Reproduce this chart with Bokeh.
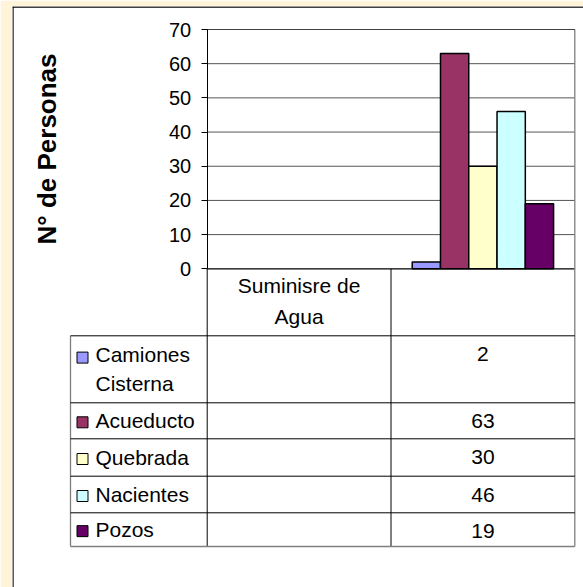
import math
import textwrap
from bokeh.plotting import figure
from bokeh.models import Range1d, FixedTicker
from bokeh.embed import file_html
from bokeh.resources import INLINE
from bokeh.core.properties import value

# ---------------- data ----------------
categories = ["Suminisre de Agua", ""]
series = ["Camiones Cisterna", "Acueducto", "Quebrada", "Nacientes", "Pozos"]
values_suministro = [None, None, None, None, None]
values_second = [2, 63, 30, 46, 19]
series_colors = ["#9999FF", "#993366", "#FFFFCC", "#CCFFFF", "#660066"]
y_ticks = [0, 10, 20, 30, 40, 50, 60, 70]
y_title = "N° de Personas"
values_by_category = [values_suministro, values_second]

# ---------------- layout constants (pixels) ----------------
FONT = "Liberation Sans"
CREAM = "#FFF4DA"
W, H = 583, 587
PANEL_L, PANEL_T = 12, 6           # white panel edges
AX_X = 206.7                        # y axis position
CAT_W = 183.8                       # width of one category column
ZERO_Y = 268.3                      # pixel row of value 0
TOP_Y = 29.0                        # pixel row of top tick
UY = (ZERO_Y - TOP_Y) / (y_ticks[-1] - y_ticks[0])

def xd(px):
    return (px - AX_X) / CAT_W

def yd(py):
    return (ZERO_Y - py) / UY

p = figure(width=W, height=H,
           x_range=Range1d(xd(PANEL_L), xd(W)), y_range=Range1d(yd(H), yd(PANEL_T)),
           output_backend="svg", toolbar_location=None,
           min_border_left=PANEL_L, min_border_top=PANEL_T,
           min_border_right=0, min_border_bottom=0,
           x_axis_location=None)
p.background_fill_color = "white"
p.border_fill_color = CREAM
p.outline_line_color = None
p.grid.visible = False

nc = len(categories)

# white panel border (left / top)
p.segment(x0=[xd(PANEL_L + 0.5), xd(PANEL_L)], x1=[xd(PANEL_L + 0.5), xd(W)],
          y0=[yd(PANEL_T), yd(PANEL_T + 0.5)], y1=[yd(H), yd(PANEL_T + 0.5)],
          line_color="black", line_width=1.3)

# grid lines
p.segment(x0=[0] * (len(y_ticks) - 1), x1=[nc] * (len(y_ticks) - 1),
          y0=y_ticks[1:], y1=y_ticks[1:], line_color="#555555", line_width=1)

# bars
bw = 1.0 / (len(series) + 1.5)
bx, btop, bcol = [], [], []
for ci, vals in enumerate(values_by_category):
    for si, v in enumerate(vals):
        if v is None:
            continue
        bx.append(ci + 0.5 + (si - (len(series) - 1) / 2) * bw)
        btop.append(v)
        bcol.append(series_colors[si])
p.vbar(x=bx, top=btop, bottom=0, width=bw, fill_color=bcol,
       line_color="black", line_width=1.5)

# y axis
ya = p.yaxis[0]
ya.fixed_location = 0
ya.bounds = (y_ticks[0], y_ticks[-1])
ya.ticker = FixedTicker(ticks=y_ticks)
ya.minor_tick_line_color = None
ya.major_tick_in = 0
ya.major_tick_out = 6
ya.major_tick_line_color = "black"
ya.axis_line_color = "black"
ya.major_label_standoff = 10
ya.major_label_text_font = FONT
ya.major_label_text_font_size = "20px"
ya.major_label_text_color = "black"
ya.axis_label = y_title
ya.axis_label_text_font = FONT
ya.axis_label_text_font_size = "26px"
ya.axis_label_text_font_style = "bold"
ya.axis_label_text_color = "black"
ya.axis_label_standoff = 104

# ---------------- data table ----------------
LEG_L = 70
header_bottom = 335.3
row_bottoms = [402.3, 438.3, 475.7, 512.3, 546.0]
row_tops = [header_bottom] + row_bottoms[:-1]
table_bottom = row_bottoms[-1]
GRAY = "#7f7f7f"

# zero line
p.segment(x0=[0], x1=[nc], y0=[0], y1=[0], line_color="black", line_width=1.2)
# vertical lines
p.segment(x0=list(range(nc)), x1=list(range(nc)), y0=[yd(ZERO_Y)] * nc,
          y1=[yd(table_bottom)] * nc, line_color="black", line_width=1)
p.segment(x0=[nc], x1=[nc], y0=[y_ticks[-1]], y1=[yd(table_bottom)],
          line_color=GRAY, line_width=1.3)
p.segment(x0=[xd(LEG_L)], x1=[xd(LEG_L)], y0=[yd(header_bottom)], y1=[yd(table_bottom)],
          line_color=GRAY, line_width=1.3)
# horizontal lines
p.segment(x0=[xd(LEG_L)] * len(row_tops), x1=[nc] * len(row_tops),
          y0=[yd(t) for t in row_tops], y1=[yd(t) for t in row_tops],
          line_color="black", line_width=1)
p.segment(x0=[xd(LEG_L)], x1=[nc], y0=[yd(table_bottom)], y1=[yd(table_bottom)],
          line_color=GRAY, line_width=1.3)
# top border of plot area
p.segment(x0=[0], x1=[nc], y0=[y_ticks[-1]], y1=[y_ticks[-1]], line_color="#404040",
          line_width=1.2)

# category header
p.text(x=[ci + 0.5 for ci in range(nc)], y=[yd(300.5)] * nc,
       text=[textwrap.fill(c, 12) for c in categories],
       text_align="center", text_baseline="middle", text_line_height=1.35,
       text_font=value(FONT), text_font_size="21px", text_color="black")

# legend column
labels = [textwrap.fill(s, 10) for s in series]
nlines = [l.count("\n") + 1 for l in labels]
centers = [(t + b) / 2 for t, b in zip(row_tops, row_bottoms)]
first_line = [c - (n - 1) * 13.2 for c, n in zip(centers, nlines)]
p.text(x=[xd(95)] * len(series), y=[yd(c) for c in centers], text=labels,
       text_align="left", text_baseline="middle", text_line_height=1.25,
       text_font=value(FONT), text_font_size="21px", text_color="black")
p.scatter(x=[xd(82)] * len(series), y=[yd(f + 1.5) for f in first_line], marker="square",
          size=11, fill_color=series_colors, line_color="black", line_width=1)

# values
for ci, vals in enumerate(values_by_category):
    vx, vy, vt = [], [], []
    for si, v in enumerate(vals):
        if v is None:
            continue
        vx.append(ci + 0.5)
        vy.append(yd(row_tops[si] + 18.5))
        vt.append(str(v))
    if vt:
        p.text(x=vx, y=vy, text=vt, text_align="center", text_baseline="middle",
               text_font=value(FONT), text_font_size="21px", text_color="black")

open("out.html", "w").write(file_html(p, INLINE))
